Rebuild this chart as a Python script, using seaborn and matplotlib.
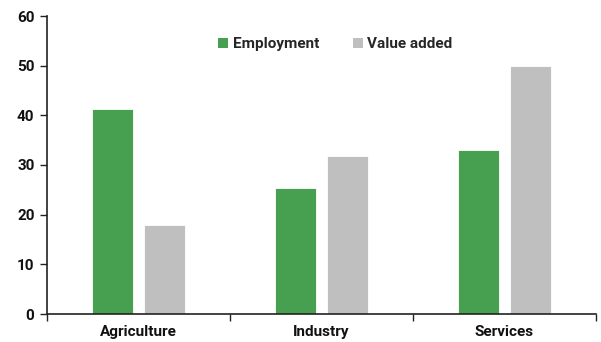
import matplotlib
matplotlib.use("Agg")
import matplotlib.pyplot as plt
import seaborn as sns
import pandas as pd
from matplotlib.patches import Patch

sectors = ["Agriculture", "Industry", "Services"]
employment = [41.2, 25.3, 33.1]
value_added = [17.9, 31.8, 49.9]
series = ["Employment", "Value added"]
colors = ["#46a04f", "#bfbfbf"]

df = pd.DataFrame({
    "sector": sectors * 2,
    "share": employment + value_added,
    "series": [series[0]] * 3 + [series[1]] * 3,
})

sns.set_style("white")
plt.rcParams["font.family"] = ["Roboto", "DejaVu Sans"]

fig = plt.figure(figsize=(6.01, 3.42), dpi=100)
ax = fig.add_axes([47 / 601, 28 / 342, 549 / 601, 298 / 342])

sns.barplot(data=df, x="sector", y="share", hue="series", palette=colors,
            width=0.568, gap=0.21, saturation=1, ax=ax, legend=False,
            edgecolor="white", linewidth=0.6)

ax.set_xlim(-0.5, 2.5)
ax.set_ylim(0, 60)
ax.set_yticks(range(0, 61, 10))
ax.set_xlabel("")
ax.set_ylabel("")
ax.set_xticks([-0.5, 0.5, 1.5, 2.5], minor=True)
ax.tick_params(axis="x", which="major", length=0, pad=8, labelsize=11)
ax.tick_params(axis="x", which="minor", length=5, width=1, direction="out",
               color="#222222", bottom=True)
ax.tick_params(axis="y", length=5, width=1, direction="out", color="#222222",
               left=True, labelsize=11, pad=4)
for lab in ax.get_xticklabels() + ax.get_yticklabels():
    lab.set_fontweight("semibold")
    lab.set_color("#111111")

for side in ["top", "right"]:
    ax.spines[side].set_visible(False)
for side in ["left", "bottom"]:
    ax.spines[side].set_color("#222222")
    ax.spines[side].set_linewidth(1.2)

handles = [Patch(facecolor=c, edgecolor="none") for c in colors]
leg = ax.legend(handles, series, loc="upper center", bbox_to_anchor=(0.525, 0.975),
                ncol=2, frameon=False, handlelength=0.65, handleheight=0.65,
                handletextpad=0.3, columnspacing=2.2,
                prop={"size": 11, "weight": "semibold"})

fig.savefig("out.png", dpi=100)
